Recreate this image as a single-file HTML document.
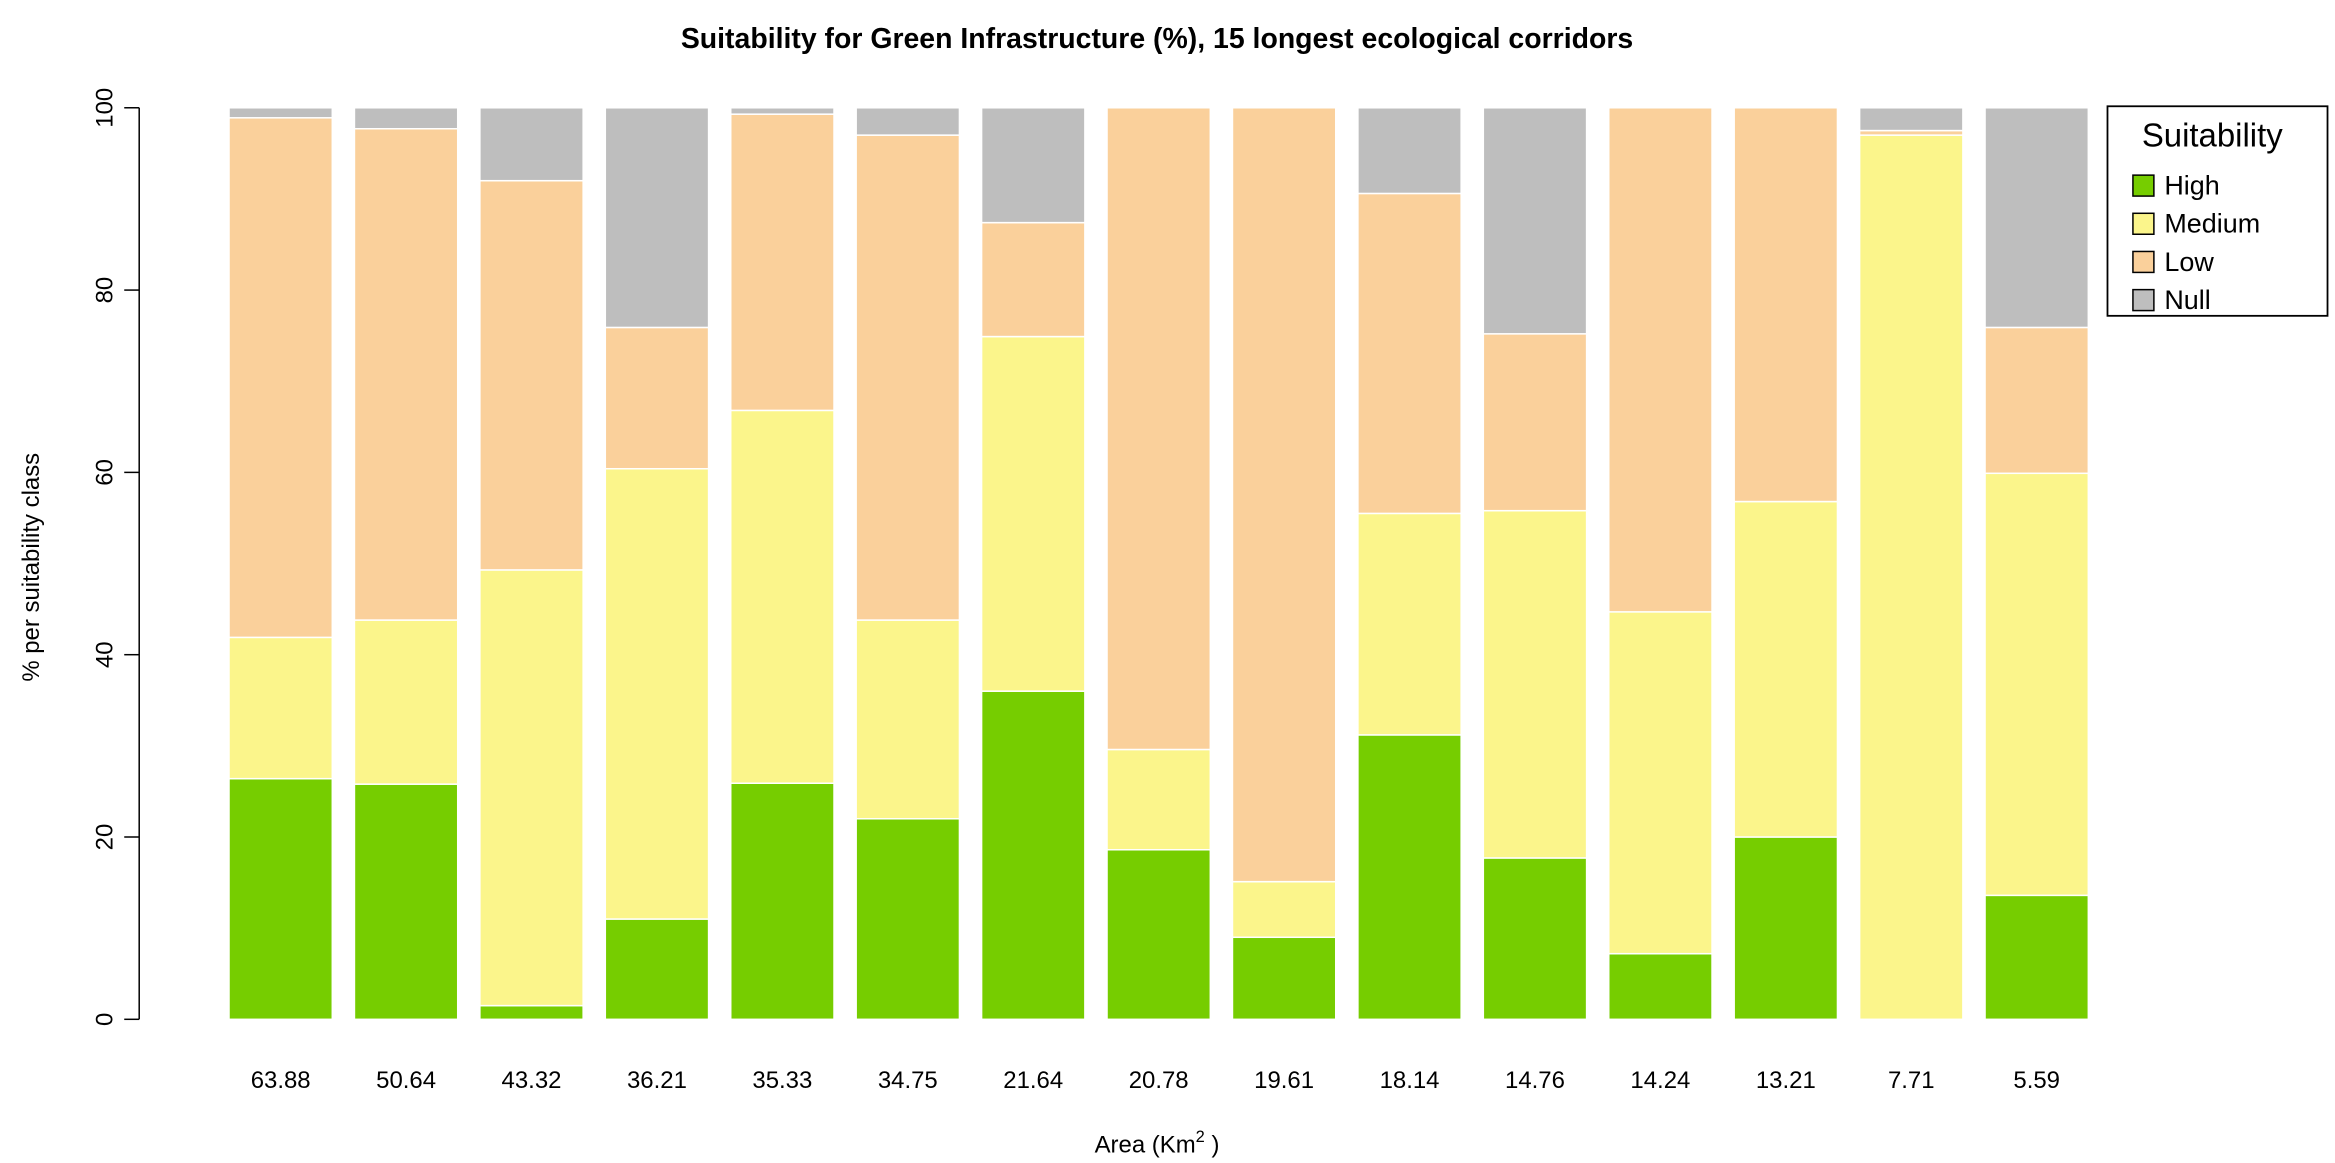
<!DOCTYPE html>
<html><head><meta charset="utf-8"><style>
body{margin:0;background:#fff;overflow:hidden;}
svg{display:block;font-family:"Liberation Sans",Arial,sans-serif;}
</style></head><body>
<svg id="chart" width="2335" height="1163" viewBox="0 0 1560 777" preserveAspectRatio="none">
<text x="773" y="32" text-anchor="middle" font-size="19" font-weight="bold">Suitability for Green Infrastructure (%), 15 longest ecological corridors</text>
<g id="bars"></g>
<g id="yaxis"></g>
<g id="xlabels"></g>
<text transform="translate(26,379) rotate(-90)" text-anchor="middle" font-size="16">% per suitability class</text>
<text x="773" y="770" text-anchor="middle" font-size="16">Area (Km<tspan dy="-7" font-size="11">2</tspan><tspan dy="7"> )</tspan></text>
<g id="legend">
<rect x="1408" y="71" width="147" height="140" fill="#fff" stroke="#000" stroke-width="1.2"/>
<text x="1478" y="98" text-anchor="middle" font-size="22">Suitability</text>
</g>
</svg>
<script>
const categories=["63.88","50.64","43.32","36.21","35.33","34.75","21.64","20.78","19.61","18.14","14.76","14.24","13.21","7.71","5.59"];
const high=[26.4,25.8,1.5,11.0,25.9,22.0,36.0,18.6,9.0,31.2,17.7,7.2,20.0,0.0,13.6];
const medium=[15.5,18.0,47.8,49.4,40.9,21.8,38.9,11.0,6.1,24.3,38.1,37.5,36.8,97.0,46.3];
const low=[57.0,53.9,42.7,15.5,32.5,53.2,12.5,70.4,84.9,35.1,19.4,55.3,43.2,0.5,16.0];
const nul=[1.1,2.3,8.0,24.1,0.7,3.0,12.6,0,0,9.4,24.8,0,0,2.5,24.1];
const seriesNames=["High","Medium","Low","Null"];
const colors=["#76cd00","#fbf58b","#fad09b","#bebebe"];
const yTicks=[0,20,40,60,80,100];
const NS="http://www.w3.org/2000/svg";
const y0=681,yTop=72;
function ys(v){return y0-(y0-yTop)*v/100;}
function xs(i){return 153+i*83.8;}
const bw=69;
const series=[high,medium,low,nul];
const bars=document.getElementById('bars');
categories.forEach((c,i)=>{
  let cum=0;
  series.forEach((s,k)=>{
    const v=s[i];
    if(v<=0){return;}
    const r=document.createElementNS(NS,'rect');
    r.setAttribute('x',xs(i));r.setAttribute('width',bw);
    r.setAttribute('y',ys(cum+v));r.setAttribute('height',ys(cum)-ys(cum+v));
    r.setAttribute('fill',colors[k]);r.setAttribute('stroke','#fff');r.setAttribute('stroke-width','1');
    
    
    bars.appendChild(r);
    cum+=v;
  });
});
const ya=document.getElementById('yaxis');
let l=document.createElementNS(NS,'line');
l.setAttribute('x1',93);l.setAttribute('x2',93);l.setAttribute('y1',ys(0));l.setAttribute('y2',ys(100));l.setAttribute('stroke','#000');


ya.appendChild(l);
yTicks.forEach(t=>{
  const tk=document.createElementNS(NS,'line');
  tk.setAttribute('x1',83);tk.setAttribute('x2',93);tk.setAttribute('y1',ys(t));tk.setAttribute('y2',ys(t));tk.setAttribute('stroke','#000');
  
  
  ya.appendChild(tk);
  const tx=document.createElementNS(NS,'text');
  tx.setAttribute('transform','translate(75,'+ys(t)+') rotate(-90)');
  tx.setAttribute('text-anchor','middle');tx.setAttribute('font-size','16');
  tx.textContent=t;
  
  
  ya.appendChild(tx);
});
const xl=document.getElementById('xlabels');
categories.forEach((c,i)=>{
  const tx=document.createElementNS(NS,'text');
  tx.setAttribute('x',xs(i)+bw/2);tx.setAttribute('y',727);
  tx.setAttribute('text-anchor','middle');tx.setAttribute('font-size','16');
  tx.textContent=c;
  
  
  xl.appendChild(tx);
});
const lg=document.getElementById('legend');
seriesNames.forEach((n,k)=>{
  const yy=124+k*25.5;
  const r=document.createElementNS(NS,'rect');
  r.setAttribute('x',1425);r.setAttribute('y',yy-7);r.setAttribute('width',14);r.setAttribute('height',14);
  r.setAttribute('fill',colors[k]);r.setAttribute('stroke','#000');
  
  
  lg.appendChild(r);
  const tx=document.createElementNS(NS,'text');
  tx.setAttribute('x',1446);tx.setAttribute('y',yy+6);tx.setAttribute('font-size','18');
  tx.textContent=n;
  
  
  lg.appendChild(tx);
});
</script>
</body></html>
